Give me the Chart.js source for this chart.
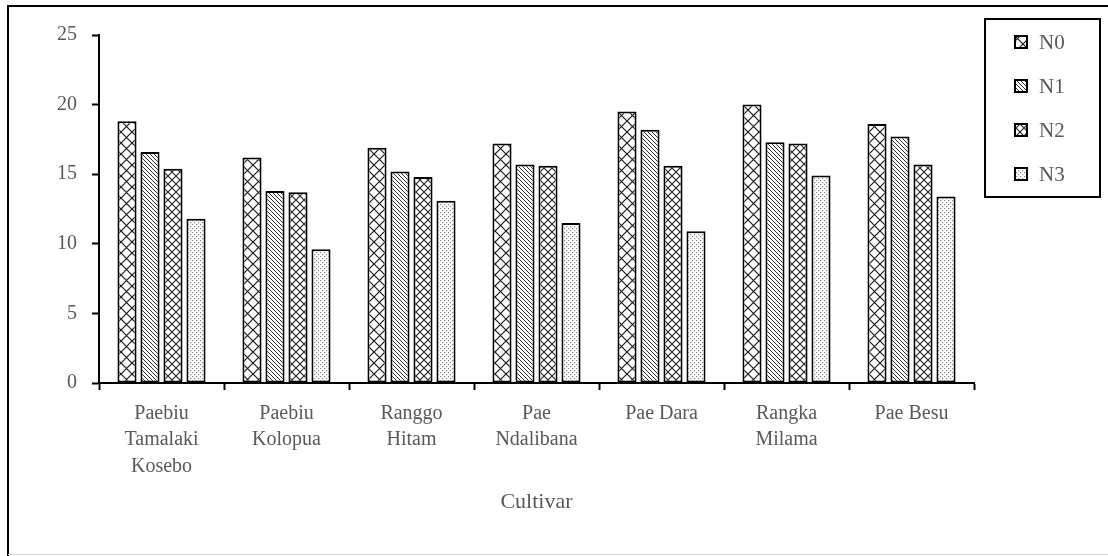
<!DOCTYPE html>
<html>
<head>
<meta charset="utf-8">
<script src="https://cdn.jsdelivr.net/npm/chart.js@4.4.0/dist/chart.umd.min.js"></script>
<style>
  html, body { margin: 0; padding: 0; background: #ffffff; }
  #chart { display: block; }
</style>
</head>
<body>
<canvas id="chart" width="1108" height="556"></canvas>
<script>
const cultivars = [
  ["Paebiu", "Tamalaki", "Kosebo"],
  ["Paebiu", "Kolopua"],
  ["Ranggo", "Hitam"],
  ["Pae", "Ndalibana"],
  "Pae Dara",
  ["Rangka", "Milama"],
  "Pae Besu"
];
const seriesNames = ["N0", "N1", "N2", "N3"];
const n0 = [18.8, 16.2, 16.9, 17.2, 19.5, 20.0, 18.6];
const n1 = [16.6, 13.8, 15.2, 15.7, 18.2, 17.3, 17.7];
const n2 = [15.4, 13.7, 14.8, 15.6, 15.6, 17.2, 15.7];
const n3 = [11.8, 9.6, 13.1, 11.5, 10.9, 14.9, 13.4];
const yTicks = [0, 5, 10, 15, 20, 25];

const textColor = "#595959";
const serif = "'Liberation Serif', 'Times New Roman', serif";

// hatch patterns drawn on small tiles
function makePattern(size, draw) {
  const c = document.createElement("canvas");
  c.width = size;
  c.height = size;
  const g = c.getContext("2d");
  g.fillStyle = "#ffffff";
  g.fillRect(0, 0, size, size);
  draw(g, size);
  return g.createPattern(c, "repeat");
}

const patN0 = makePattern(11, function (g, s) {
  g.strokeStyle = "#1a1a1a";
  g.lineWidth = 1.2;
  g.beginPath();
  g.moveTo(0, 0); g.lineTo(s, s);
  g.moveTo(s, 0); g.lineTo(0, s);
  g.stroke();
});
const patN1 = makePattern(4, function (g, s) {
  g.strokeStyle = "#333333";
  g.lineWidth = 1;
  g.beginPath();
  g.moveTo(-1, -1); g.lineTo(s + 1, s + 1);
  g.moveTo(-1, s - 1); g.lineTo(1, s + 1);
  g.moveTo(s - 1, -1); g.lineTo(s + 1, 1);
  g.stroke();
});
const patN2 = makePattern(8, function (g, s) {
  g.strokeStyle = "#2a2a2a";
  g.lineWidth = 1.2;
  g.beginPath();
  g.moveTo(0, 0); g.lineTo(s, s);
  g.moveTo(s, 0); g.lineTo(0, s);
  g.stroke();
});
const patN3 = makePattern(4, function (g, s) {
  g.fillStyle = "#8a8a8a";
  g.fillRect(0, 0, 1.2, 1.2);
  g.fillRect(2, 2, 1.2, 1.2);
});

const patterns = [patN0, patN1, patN2, patN3];
const values = [n0, n1, n2, n3];

// outer frame of the figure
const framePlugin = {
  id: "frame",
  afterDraw(chart) {
    const ctx = chart.ctx;
    ctx.save();
    ctx.strokeStyle = "#000000";
    ctx.lineWidth = 2;
    ctx.beginPath();
    ctx.moveTo(8, 556);
    ctx.lineTo(8, 6);
    ctx.lineTo(1108, 6);
    ctx.stroke();
    ctx.strokeStyle = "#d8d8d8";
    ctx.lineWidth = 1;
    ctx.beginPath();
    ctx.moveTo(8, 554.5);
    ctx.lineTo(1108, 554.5);
    ctx.stroke();
    ctx.restore();
  }
};

// boxed legend at the top right
const boxLegendPlugin = {
  id: "boxLegend",
  afterDraw(chart) {
    const ctx = chart.ctx;
    const left = 985, top = 19, right = 1100, bottom = 197;
    ctx.save();
    ctx.strokeStyle = "#000000";
    ctx.lineWidth = 2;
    ctx.strokeRect(left, top, right - left, bottom - top);
    ctx.font = "21px " + serif;
    ctx.textBaseline = "middle";
    ctx.textAlign = "left";
    chart.data.datasets.forEach(function (ds, i) {
      const cy = 42 + i * 44;
      ctx.fillStyle = ds.backgroundColor;
      ctx.fillRect(1015, cy - 6, 12, 12);
      ctx.strokeStyle = "#000000";
      ctx.lineWidth = 2;
      ctx.strokeRect(1015, cy - 6, 12, 12);
      ctx.fillStyle = textColor;
      ctx.fillText(ds.label, 1039, cy + 1);
    });
    ctx.restore();
  }
};

const datasets = seriesNames.map(function (name, i) {
  return {
    label: name,
    data: values[i],
    backgroundColor: patterns[i],
    borderColor: "#000000",
    borderWidth: 2,
    borderSkipped: false,
    categoryPercentage: 0.736,
    barPercentage: 0.83
  };
});

new Chart(document.getElementById("chart").getContext("2d"), {
  type: "bar",
  data: {
    labels: cultivars,
    datasets: datasets
  },
  options: {
    responsive: false,
    animation: false,
    devicePixelRatio: 1,
    layout: {
      padding: { left: 0, top: 35, right: 134, bottom: 0 }
    },
    plugins: {
      legend: { display: false },
      tooltip: { enabled: false }
    },
    scales: {
      x: {
        grid: {
          drawOnChartArea: false,
          drawTicks: true,
          tickLength: 7,
          tickColor: "#000000",
          tickWidth: 2,
          offset: true
        },
        border: { color: "#000000", width: 2 },
        ticks: {
          color: textColor,
          padding: 10,
          maxRotation: 0,
          autoSkip: false,
          font: { family: serif, size: 20, lineHeight: 1.33 }
        },
        title: {
          display: true,
          text: "Cultivar",
          color: textColor,
          font: { family: serif, size: 22, lineHeight: 1.2 },
          padding: { top: 0, bottom: 41 }
        },
        afterFit(scale) {
          scale.height = 173;
        }
      },
      y: {
        min: 0,
        max: 25,
        afterBuildTicks(scale) {
          scale.ticks = yTicks.map(function (v) { return { value: v }; });
        },
        grid: {
          drawOnChartArea: false,
          drawTicks: true,
          tickLength: 7,
          tickColor: "#000000",
          tickWidth: 2
        },
        border: { color: "#000000", width: 2 },
        ticks: {
          color: textColor,
          padding: 15,
          font: { family: serif, size: 20 }
        },
        afterFit(scale) {
          scale.width = 99;
        }
      }
    }
  },
  plugins: [framePlugin, boxLegendPlugin]
});
</script>
</body>
</html>
